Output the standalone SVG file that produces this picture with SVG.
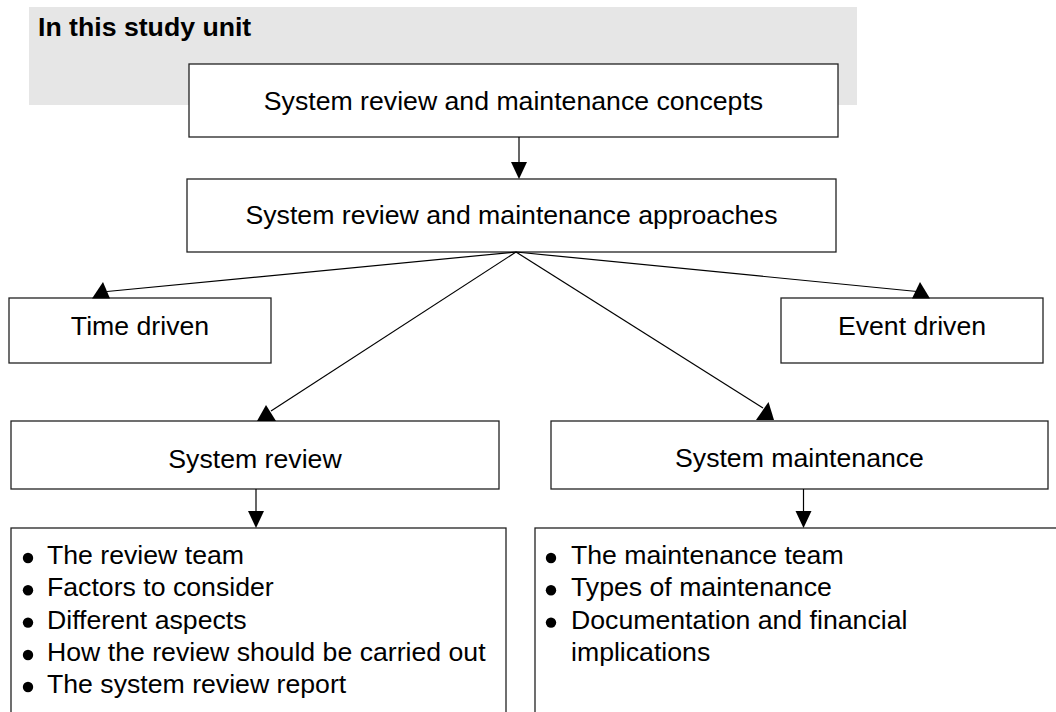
<svg xmlns="http://www.w3.org/2000/svg" width="1056" height="712" viewBox="0 0 1056 712">
<style>
.box{fill:#fff;stroke:#222;stroke-width:1.3}
.t{font-family:"Liberation Sans",Arial,sans-serif;font-size:26.67px;fill:#000}
.c{text-anchor:middle}
.b{font-weight:bold}
.ln{stroke:#000;stroke-width:1.2;fill:none}
.ah{fill:#000}
.dot{fill:#000}
</style>
<rect width="1056" height="712" fill="#fff"/>
<g id="header">
<rect x="29" y="7" width="828" height="98" fill="#e6e6e6"/>
<text class="t b" x="38" y="36">In this study unit</text>
</g>
<g id="concepts">
<rect class="box" x="189" y="64" width="649" height="73"/>
<text class="t c" x="513.5" y="110">System review and maintenance concepts</text>
</g>
<g id="approaches">
<rect class="box" x="187" y="179" width="649" height="73"/>
<text class="t c" x="511.5" y="224">System review and maintenance approaches</text>
</g>
<g id="time">
<rect class="box" x="9" y="298" width="262" height="65"/>
<text class="t c" x="140" y="335">Time driven</text>
</g>
<g id="event">
<rect class="box" x="781" y="298" width="262" height="65"/>
<text class="t c" x="912" y="335">Event driven</text>
</g>
<g id="review">
<rect class="box" x="11" y="421" width="488" height="68"/>
<text class="t c" x="255" y="468">System review</text>
</g>
<g id="maintenance">
<rect class="box" x="551" y="421" width="497" height="68"/>
<text class="t c" x="799.5" y="467">System maintenance</text>
</g>
<g id="review-list">
<rect class="box" x="11" y="528" width="495" height="200"/>
<circle class="dot" cx="28" cy="558" r="5.2"/>
<circle class="dot" cx="28" cy="590.3" r="5.2"/>
<circle class="dot" cx="28" cy="622.6" r="5.2"/>
<circle class="dot" cx="28" cy="655" r="5.2"/>
<circle class="dot" cx="28" cy="687" r="5.2"/>
<text class="t" x="47" y="564">The review team</text>
<text class="t" x="47" y="596.3">Factors to consider</text>
<text class="t" x="47" y="628.6">Different aspects</text>
<text class="t" x="47" y="661">How the review should be carried out</text>
<text class="t" x="47" y="693">The system review report</text>
</g>
<g id="maintenance-list">
<rect class="box" x="535" y="528" width="540" height="200"/>
<circle class="dot" cx="551" cy="558" r="5.2"/>
<circle class="dot" cx="551" cy="590.3" r="5.2"/>
<circle class="dot" cx="551" cy="622.6" r="5.2"/>
<text class="t" x="571" y="564">The maintenance team</text>
<text class="t" x="571" y="596.3">Types of maintenance</text>
<text class="t" x="571" y="628.6">Documentation and financial</text>
<text class="t" x="571" y="661">implications</text>
</g>
<g id="connectors">
<line class="ln" x1="519" y1="137" x2="519" y2="164"/>
<polygon class="ah" points="511,162 527,162 519,179"/>
<line class="ln" x1="516" y1="252" x2="107" y2="291.5"/>
<polygon class="ah" points="92,298.5 110,298.5 103,282"/>
<line class="ln" x1="516" y1="252" x2="917" y2="291.5"/>
<polygon class="ah" points="912,298.5 930,298.5 920,282"/>
<line class="ln" x1="516" y1="252" x2="271" y2="411"/>
<polygon class="ah" points="257,421 276,421 266,405"/>
<line class="ln" x1="516" y1="252" x2="763" y2="408"/>
<polygon class="ah" points="756,420 774,420 768.5,402"/>
<line class="ln" x1="256" y1="489" x2="256" y2="513"/>
<polygon class="ah" points="248,511 264,511 256,528"/>
<line class="ln" x1="803.5" y1="489" x2="803.5" y2="513"/>
<polygon class="ah" points="795.5,511 811.5,511 803.5,528"/>
</g>
</svg>
